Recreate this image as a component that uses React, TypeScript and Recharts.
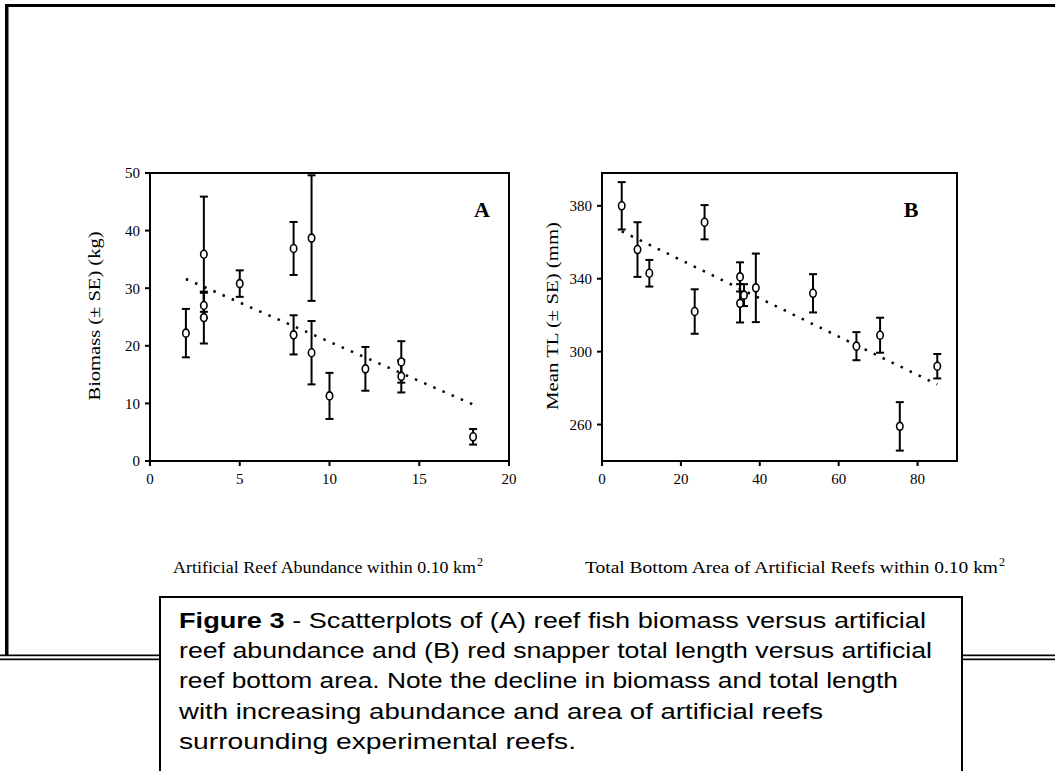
import React from 'react';
import { ScatterChart, Scatter, XAxis, YAxis, ErrorBar, ReferenceArea } from 'recharts';

// Panel A: reef fish biomass vs artificial reef abundance
const reefAbundance = [2, 3, 3, 3, 5, 8, 8, 9, 9, 10, 12, 14, 14, 18];
const biomassKg = [22.2, 35.9, 27.0, 24.9, 30.8, 36.9, 21.9, 38.7, 18.8, 11.3, 16.0, 17.2, 14.7, 4.2];
const biomassSE = [4.2, 10.0, 2.2, 4.5, 2.3, 4.6, 3.4, 10.9, 5.5, 4.0, 3.8, 3.6, 2.8, 1.35];
const biomassTrendX = [2, 18];
const biomassTrendY = [31.6, 9.8];
const abundanceTicks = [0, 5, 10, 15, 20];
const biomassTicks = [0, 10, 20, 30, 40, 50];

// Panel B: red snapper total length vs artificial reef bottom area
const bottomArea = [5, 9, 12, 23.5, 26, 35, 35, 36, 39, 53.5, 64.5, 70.5, 75.5, 85];
const meanTL = [380, 356, 343, 322, 371, 341, 326.5, 331, 335, 332, 303, 309, 259, 292];
const meanTLSE = [13, 15, 7.3, 12.2, 9.4, 8, 10.5, 6, 18.8, 10.5, 7.7, 9.6, 13.3, 6.7];
const tlTrendX = [5, 85];
const tlTrendY = [366, 282];
const areaTicks = [0, 20, 40, 60, 80];
const tlTicks = [260, 300, 340, 380];

const captionLines = [
  'reef abundance and (B) red snapper total length versus artificial',
  'reef bottom area. Note the decline in biomass and total length',
  'with increasing abundance and area of artificial reefs',
  'surrounding experimental reefs.',
];
const captionLineWidths = [753, 719, 644, 397];

const SERIF = '"Liberation Serif", "Times New Roman", Times, serif';
const SANS = '"Liberation Sans", Arial, Helvetica, sans-serif';

const pointsA = reefAbundance.map((x, i) => ({ x, y: biomassKg[i], se: biomassSE[i] }));
const trendA = biomassTrendX.map((x, i) => ({ x, y: biomassTrendY[i] }));
const pointsB = bottomArea.map((x, i) => ({ x, y: meanTL[i], se: meanTLSE[i] }));
const trendB = tlTrendX.map((x, i) => ({ x, y: tlTrendY[i] }));

const tickStyle = { fontFamily: SERIF, fontSize: 15, fill: '#000' };
const axisLine = { stroke: '#000', strokeWidth: 2 };

const Ring = (p: any) => (
  <ellipse cx={p.cx} cy={p.cy} rx={3.2} ry={4} fill="#fff" stroke="#000" strokeWidth={1.6} />
);
const NoShape = () => <g />;
const dotted = { stroke: '#000', strokeWidth: 2.5, strokeDasharray: '2.5 7.5' };

function Panel(props: {
  left: number; top: number; width: number; height: number;
  points: any[]; trend: any[];
  xDomain: [number, number]; xTicks: number[];
  yDomain: [number, number]; yTicks: number[];
}) {
  const { left, top, width, height, points, trend, xDomain, xTicks, yDomain, yTicks } = props;
  return (
    <div style={{ position: 'absolute', left, top }}>
      <ScatterChart width={width} height={height} margin={{ top: 13, right: 10, bottom: 0, left: 0 }}>
        <XAxis
          type="number" dataKey="x" domain={xDomain} ticks={xTicks} allowDataOverflow
          height={30} tick={tickStyle} tickSize={5} tickMargin={7}
          axisLine={axisLine} tickLine={axisLine}
        />
        <YAxis
          type="number" dataKey="y" domain={yDomain} ticks={yTicks} allowDataOverflow
          width={90} tick={tickStyle} tickSize={5} tickMargin={5}
          axisLine={axisLine} tickLine={axisLine}
        />
        <ReferenceArea x1={xDomain[0]} x2={xDomain[1]} y1={yDomain[0]} y2={yDomain[1]}
          fill="none" fillOpacity={0} stroke="#000" strokeWidth={2} ifOverflow="visible" />
        <Scatter data={trend} line={dotted} lineType="joint" shape={NoShape} isAnimationActive={false} />
        <Scatter data={points} shape={Ring} isAnimationActive={false}>
          <ErrorBar dataKey="se" direction="y" width={4} stroke="#000" strokeWidth={2} isAnimationActive={false} />
        </Scatter>
      </ScatterChart>
    </div>
  );
}

export default function App() {
  const capTop = 597;
  const base = 628;
  const step = 30.2;
  return (
    <div style={{ position: 'absolute', left: 0, top: 0, width: 1055, height: 771, background: '#fff', overflow: 'hidden' }}>
      <svg width={1055} height={771} style={{ position: 'absolute', left: 0, top: 0 }}>
        {/* outer frame */}
        <rect x={5} y={4} width={1050} height={3} fill="#000" />
        <rect x={5} y={4} width={3.5} height={652} fill="#000" />
        <rect x={0} y={654.5} width={160} height={1.7} fill="#000" />
        <rect x={0} y={658.5} width={160} height={1.7} fill="#000" />
        <rect x={962} y={654.5} width={93} height={1.7} fill="#000" />
        <rect x={962} y={658.5} width={93} height={1.7} fill="#000" />
        {/* caption box */}
        <rect x={160} y={capTop} width={802} height={200} fill="#fff" stroke="#000" strokeWidth={2} />
        <g fontFamily={SANS} fontSize={22} fill="#000">
          <text x={179} y={base} textLength={747} lengthAdjust="spacingAndGlyphs">
            <tspan fontWeight="bold">Figure 3</tspan> - Scatterplots of (A) reef fish biomass versus artificial
          </text>
          {captionLines.map((t, i) => (
            <text key={i} x={179} y={base + (i + 1) * step} textLength={captionLineWidths[i]} lengthAdjust="spacingAndGlyphs">{t}</text>
          ))}
        </g>
        {/* axis titles */}
        <text x={173} y={573} fontFamily={SERIF} fontSize={16} textLength={303} lengthAdjust="spacingAndGlyphs">
          Artificial Reef Abundance within 0.10 km
        </text>
        <text x={477} y={566} fontFamily={SERIF} fontSize={12}>2</text>
        <text x={585} y={573} fontFamily={SERIF} fontSize={16} textLength={413} lengthAdjust="spacingAndGlyphs">
          Total Bottom Area of Artificial Reefs within 0.10 km
        </text>
        <text x={999} y={566} fontFamily={SERIF} fontSize={12}>2</text>
        <text transform="translate(100,316) rotate(-90)" textAnchor="middle" fontFamily={SERIF} fontSize={16}
          textLength={169} lengthAdjust="spacingAndGlyphs">
          Biomass (± SE) (kg)
        </text>
        <text transform="translate(558,316) rotate(-90)" textAnchor="middle" fontFamily={SERIF} fontSize={16}
          textLength={188} lengthAdjust="spacingAndGlyphs">
          Mean TL (± SE) (mm)
        </text>
        {/* panel letters */}
        <text x={482} y={217} textAnchor="middle" fontFamily={SERIF} fontSize={22} fontWeight="bold">A</text>
        <text x={911} y={217} textAnchor="middle" fontFamily={SERIF} fontSize={22} fontWeight="bold">B</text>
      </svg>
      <Panel left={60} top={160} width={459} height={331} points={pointsA} trend={trendA}
        xDomain={[0, 20]} xTicks={abundanceTicks} yDomain={[0, 50]} yTicks={biomassTicks} />
      <Panel left={512} top={160} width={455} height={331} points={pointsB} trend={trendB}
        xDomain={[0, 90]} xTicks={areaTicks} yDomain={[240, 398]} yTicks={tlTicks} />
    </div>
  );
}
